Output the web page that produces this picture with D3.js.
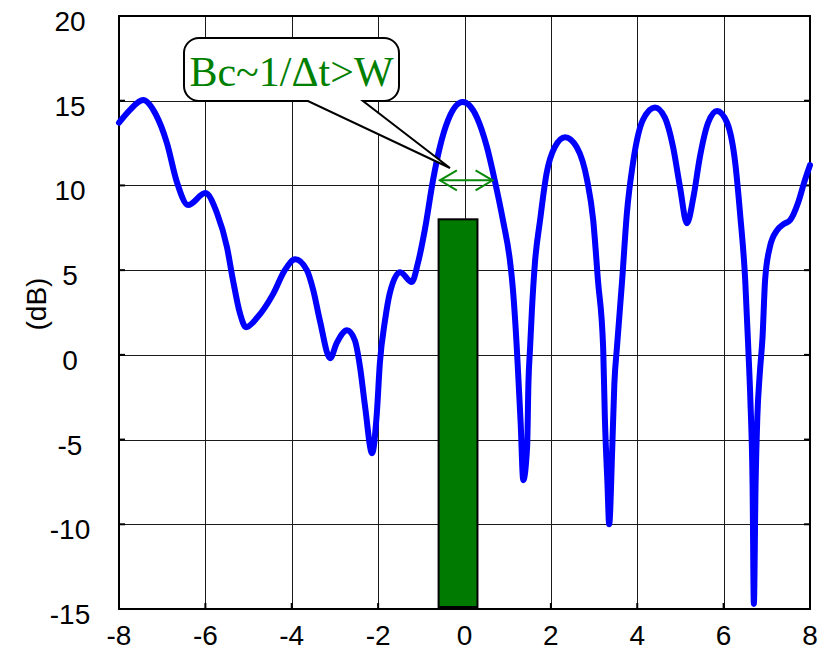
<!DOCTYPE html>
<html>
<head>
<meta charset="utf-8">
<script src="https://cdn.jsdelivr.net/npm/d3@7"></script>
<style>
  html, body { margin: 0; padding: 0; background: #ffffff; }
  svg { display: block; }
</style>
</head>
<body>
<svg id="chart" width="834" height="651"></svg>
<script>
// Frequency response (dB) across normalized frequency
const freq = [
  -8.00, -7.75, -7.44, -7.15, -6.89, -6.66, -6.40, -6.00, -5.73, -5.50,
  -5.36, -5.20, -5.06, -4.80, -4.43, -4.16, -3.92, -3.65, -3.50, -3.35,
  -3.11, -2.96, -2.72, -2.54, -2.42, -2.30, -2.14, -2.03, -1.96, -1.84,
  -1.73, -1.49, -1.22, -1.08, -0.92, -0.73, -0.57, -0.38, -0.04, 0.29,
  0.52, 0.70, 0.89, 1.05, 1.12, 1.21, 1.25, 1.30, 1.36, 1.45,
  1.48, 1.52, 1.56, 1.63, 1.75, 1.90, 2.09, 2.33, 2.60, 2.84,
  2.98, 3.09, 3.21, 3.25, 3.31, 3.35, 3.42, 3.47, 3.53, 3.65,
  3.76, 3.90, 4.13, 4.41, 4.64, 4.83, 4.99, 5.15, 5.30, 5.45,
  5.64, 5.85, 6.08, 6.27, 6.38, 6.50, 6.57, 6.62, 6.67, 6.70,
  6.74, 6.78, 6.84, 6.90, 6.96, 7.07, 7.24, 7.38, 7.54, 7.72,
  7.88, 8.00
];
const gainDb = [
  13.7, 14.45, 15.04, 14.2, 12.5, 10.2, 8.84, 9.55, 8.36, 6.36,
  4.4, 2.46, 1.63, 2.2, 3.6, 5.0, 5.64, 5.0, 3.8, 2.04,
  -0.2, 0.69, 1.45, 0.86, -0.7, -3.1, -5.8, -3.45, -0.5, 2.04,
  3.64, 4.88, 4.3, 5.4, 7.36, 10.3, 12.27, 13.86, 14.92, 14.0,
  12.26, 10.3, 7.95, 5.6, 3.9, 0.45, -1.5, -4.0, -7.4, -5.45,
  -1.7, 0.5, 2.6, 5.4, 7.95, 10.7, 12.26, 12.85, 12.26, 10.3,
  7.95, 4.4, 0.45, -3.7, -7.6, -10.0, -5.6, -1.7, 0.45, 4.4,
  8.36, 11.3, 13.86, 14.6, 14.0, 12.26, 9.9, 7.77, 9.3, 11.67,
  13.7, 14.4, 13.7, 11.3, 8.36, 4.4, 0.45, -2.7, -7.6, -14.7,
  -7.6, -3.7, -1.0, 1.0, 4.4, 6.36, 7.36, 7.7, 7.95, 8.95,
  10.3, 11.2
];

// Signal band (bar) and coherence bandwidth marker
const bandStart = -0.6;
const bandEnd = 0.3;
const bandTop = 8;
const bandBase = -15;
const spanStart = -0.57;
const spanEnd = 0.65;
const spanLevel = 10.3;
const calloutText = "Bc~1/\u0394t>W";

// Tick labels
const xTicks = [-8, -6, -4, -2, 0, 2, 4, 6, 8];
const yTicks = [-15, -10, -5, 0, 5, 10, 15, 20];

const svg = d3.select("#chart");
const plotL = 119, plotR = 810, plotT = 16, plotB = 609;

const x = d3.scaleLinear().domain([-8, 8]).range([plotL, plotR]);
const y = d3.scaleLinear().domain([-15, 20]).range([plotB, plotT]);

// Grid
const grid = svg.append("g").attr("stroke", "#1a1a1a").attr("stroke-width", 1);
grid.selectAll("line.vx").data(xTicks.slice(1, -1)).join("line")
  .attr("x1", d => Math.round(x(d)) + 0.5).attr("x2", d => Math.round(x(d)) + 0.5)
  .attr("y1", plotT).attr("y2", plotB);
grid.selectAll("line.hy").data(yTicks.slice(1, -1)).join("line")
  .attr("y1", d => Math.round(y(d)) + 0.5).attr("y2", d => Math.round(y(d)) + 0.5)
  .attr("x1", plotL).attr("x2", plotR);

// Inner tick marks
const tk = svg.append("g").attr("stroke", "#000").attr("stroke-width", 2);
yTicks.forEach(d => {
  tk.append("line").attr("x1", plotL).attr("x2", plotL + 6).attr("y1", y(d)).attr("y2", y(d));
  tk.append("line").attr("x1", plotR - 6).attr("x2", plotR).attr("y1", y(d)).attr("y2", y(d));
});
xTicks.forEach(d => {
  tk.append("line").attr("x1", x(d)).attr("x2", x(d)).attr("y1", plotB).attr("y2", plotB - 6);
});

// Frame
svg.append("rect")
  .attr("x", plotL).attr("y", plotT)
  .attr("width", plotR - plotL).attr("height", plotB - plotT)
  .attr("fill", "none").attr("stroke", "#000").attr("stroke-width", 2);

// Signal band
svg.append("rect")
  .attr("x", x(bandStart)).attr("y", y(bandTop))
  .attr("width", x(bandEnd) - x(bandStart))
  .attr("height", y(bandBase) - y(bandTop) - 2)
  .attr("fill", "#007a00").attr("stroke", "#000").attr("stroke-width", 2);

// Response curve
const pts = freq.map((f, i) => [f, gainDb[i]]);
const line = d3.line().x(d => x(d[0])).y(d => y(d[1])).curve(d3.curveMonotoneX);
svg.append("path")
  .attr("d", line(pts))
  .attr("fill", "none").attr("stroke", "#0000ff")
  .attr("stroke-width", 6).attr("stroke-linejoin", "round").attr("stroke-linecap", "round");

// Bandwidth double arrow
const ay = y(spanLevel), ax0 = x(spanStart), ax1 = x(spanEnd);
const arrow = svg.append("g").attr("stroke", "#0a8a0a").attr("stroke-width", 2).attr("fill", "none");
arrow.append("line").attr("x1", ax0).attr("x2", ax1).attr("y1", ay).attr("y2", ay);
arrow.append("polyline").attr("points", `${ax0 + 17},${ay - 10} ${ax0},${ay} ${ax0 + 17},${ay + 10}`);
arrow.append("polyline").attr("points", `${ax1 - 17},${ay - 10} ${ax1},${ay} ${ax1 - 17},${ay + 10}`);

// Callout bubble
const bx0 = 184, bx1 = 399, by0 = 38, by1 = 101, r = 15;
const tipX = 450, tipY = 168, tailL = 308, tailR = 363;
const bubble = `M${bx0 + r},${by0} H${bx1 - r} A${r},${r} 0 0 1 ${bx1},${by0 + r} V${by1 - r}
  A${r},${r} 0 0 1 ${bx1 - r},${by1} H${tailR} L${tipX},${tipY} L${tailL},${by1} H${bx0 + r}
  A${r},${r} 0 0 1 ${bx0},${by1 - r} V${by0 + r} A${r},${r} 0 0 1 ${bx0 + r},${by0} Z`;
svg.append("path").attr("d", bubble)
  .attr("fill", "#fff").attr("stroke", "#000").attr("stroke-width", 2);
svg.append("text")
  .attr("x", (bx0 + bx1) / 2).attr("y", 86)
  .attr("text-anchor", "middle")
  .attr("font-family", "'Liberation Serif', 'Times New Roman', serif")
  .attr("font-size", 42).attr("fill", "#008000")
  .text(calloutText);

// Axis labels
const font = "'Liberation Sans', Arial, sans-serif";
svg.append("g").selectAll("text").data(yTicks).join("text")
  .attr("x", 70).attr("y", d => y(d) + 15)
  .attr("text-anchor", "middle")
  .attr("font-family", font).attr("font-size", 28).attr("fill", "#000")
  .text(d => d);
svg.append("g").selectAll("text").data(xTicks).join("text")
  .attr("x", d => x(d)).attr("y", 645)
  .attr("text-anchor", "middle")
  .attr("font-family", font).attr("font-size", 28).attr("fill", "#000")
  .text(d => d);
svg.append("text")
  .attr("transform", "translate(46,304) rotate(-90)")
  .attr("text-anchor", "middle")
  .attr("font-family", font).attr("font-size", 28).attr("fill", "#000")
  .text("(dB)");
</script>
</body>
</html>
